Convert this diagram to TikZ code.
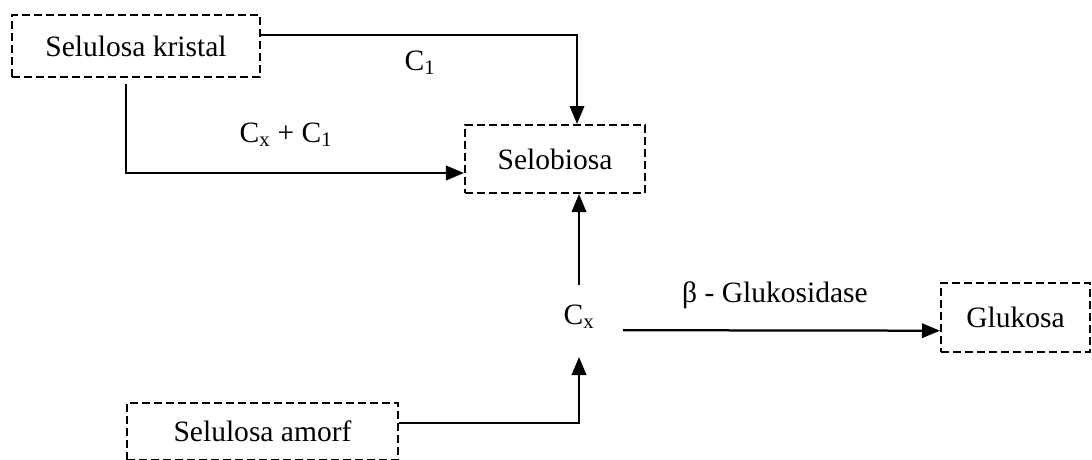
\documentclass[tikz,border=0pt]{standalone}
\usepackage{fontspec}
\setmainfont{Liberation Serif}
\usetikzlibrary{arrows.meta}

\begin{document}
\begin{tikzpicture}[x=0.025cm,y=-0.025cm,line width=1.6pt,
	font=\fontsize{21}{25}\selectfont,
	box/.style={draw,dash pattern=on 0.2cm off 0.1cm,line width=1.4pt,inner sep=0},
	arr/.style={-{Triangle[length=0.45cm,width=0.36cm]}}]
	\useasboundingbox (0,0) rectangle (1092,460);
	\node (kristal) at (136,46) [box,minimum width=6.2cm,minimum height=1.55cm] {Selulosa kristal};
	\node (selobiosa) at (555,159) [box,minimum width=4.5cm,minimum height=1.7cm] {Selobiosa};
	\node (glukosa) at (1015.5,317.5) [box,minimum width=3.725cm,minimum height=1.725cm] {Glukosa};
	\node (amorf) at (262.5,431.5) [box,minimum width=6.775cm,minimum height=1.425cm] {Selulosa amorf};
	\node (c1) at (420,63) {C\textsubscript{1}};
	\node (cxc1) at (286,135) {C\textsubscript{x} + C\textsubscript{1}};
	\node (cx) at (579,317) [inner sep=0] {C\textsubscript{x}};
	\node (beta) at (775,295) {β - Glukosidase};
	\draw [arr] ([yshift=0.275cm]kristal.east) -| ([xshift=0.55cm]selobiosa.north);
	\draw [arr] ([xshift=-0.25cm,yshift=-0.15cm]kristal.south) |- ([yshift=-0.35cm]selobiosa.west);
	\draw [arr] ([yshift=0.8cm]cx.center) -- (cx.center |- selobiosa.south);
	\draw [arr] ([yshift=0.21cm]amorf.east) -| ([yshift=-1cm]cx.center);
	\draw [arr] ([xshift=1.1cm,yshift=-0.33cm]cx.center) -- ([yshift=-0.33cm]glukosa.west);
\end{tikzpicture}
\end{document}
